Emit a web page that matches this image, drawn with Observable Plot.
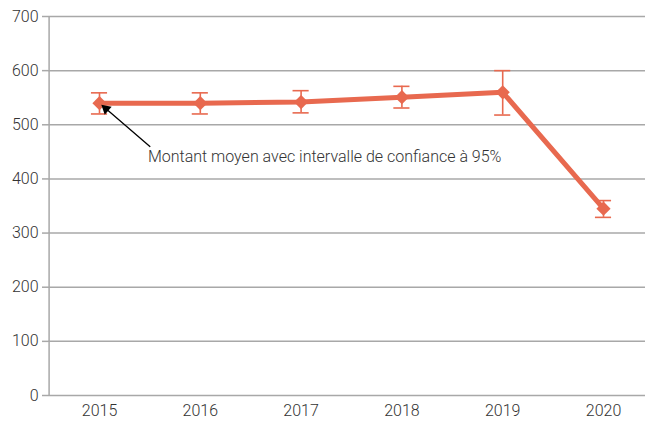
<!DOCTYPE html>
<html><head><meta charset="utf-8">
<script src="https://cdn.jsdelivr.net/npm/d3@7"></script>
<script src="https://cdn.jsdelivr.net/npm/@observablehq/plot@0.6"></script>
<style>
html,body{margin:0;padding:0;background:#fff;}
svg{font-family:Roboto,"DejaVu Sans",sans-serif;}
</style></head>
<body><div id="chart"></div>
<script>
const years = [2015, 2016, 2017, 2018, 2019, 2020];
const means = [540, 540, 542, 551, 560, 345];
const lower = [520, 520, 522, 531, 518, 329];
const upper = [559, 559, 563, 571, 600, 360];
const yTicks = [0, 100, 200, 300, 400, 500, 600, 700];
const note = "Montant moyen avec intervalle de confiance à 95%";
const noteAt = {x: 2015.48, y: 440};
const arrowFrom = {x: 2015.5, y: 460};
const arrowTo = {x: 2015, y: 540};
const capHalf = 0.08;

const data = years.map((y, i) => ({year: y, mean: means[i], lo: lower[i], hi: upper[i]}));
const color = "#E8694F";
const grid = "#A8A8A8";
const textColor = "#333";

const chart = Plot.plot({
  width: 645,
  height: 426,
  marginTop: 16,
  marginBottom: 31,
  marginLeft: 48,
  marginRight: 0,
  style: {fontSize: "16px", fontWeight: 300, color: textColor, fontFamily: "Roboto, sans-serif"},
  x: {type: "linear", domain: [2014.5, 2020.5], range: [48.6, 653.4], label: null},
  y: {domain: [0, 700], label: null},
  marks: [
    Plot.ruleY(yTicks, {stroke: grid, strokeWidth: 1.5, strokeOpacity: 1}),
    Plot.ruleX([2014.5], {y1: 0, y2: 700, stroke: grid, strokeWidth: 1.5, strokeOpacity: 1}),
    Plot.axisY({ticks: yTicks, tickSize: 6, tickPadding: 4, stroke: grid, strokeWidth: 1.5, strokeOpacity: 1, fill: textColor, fontSize: 16, fontWeight: 300, label: null}),
    Plot.axisX({ticks: years, tickFormat: d => String(d), tickSize: 0, tickPadding: 9, fill: textColor, fontSize: 16, fontWeight: 300, label: null}),
    Plot.ruleX(data, {x: "year", y1: "lo", y2: "hi", stroke: color, strokeWidth: 1.6}),
    Plot.ruleY(data, {y: "lo", x1: d => d.year - capHalf, x2: d => d.year + capHalf, stroke: color, strokeWidth: 1.6}),
    Plot.ruleY(data, {y: "hi", x1: d => d.year - capHalf, x2: d => d.year + capHalf, stroke: color, strokeWidth: 1.6}),
    Plot.line(data, {x: "year", y: "mean", stroke: color, strokeWidth: 5}),
    Plot.dot(data, {x: "year", y: "mean", symbol: "diamond2", r: 6.4, fill: color, stroke: null}),
    Plot.arrow([0], {x1: () => arrowFrom.x, y1: () => arrowFrom.y, x2: () => arrowTo.x, y2: () => arrowTo.y, stroke: "#000", strokeWidth: 1.3, headLength: 0, insetEnd: 9}),
    Plot.dot([0], {x: () => arrowTo.x, y: () => arrowTo.y, symbol: "triangle", r: 3.9, fill: "#000", stroke: null, rotate: -49, dx: 6.4, dy: 5.6}),
    Plot.text([note], {x: () => noteAt.x, y: () => noteAt.y, text: d => d, textAnchor: "start", fill: textColor, fontSize: 16, fontWeight: 300})
  ]
});
document.getElementById("chart").append(chart);
</script>
</body></html>
